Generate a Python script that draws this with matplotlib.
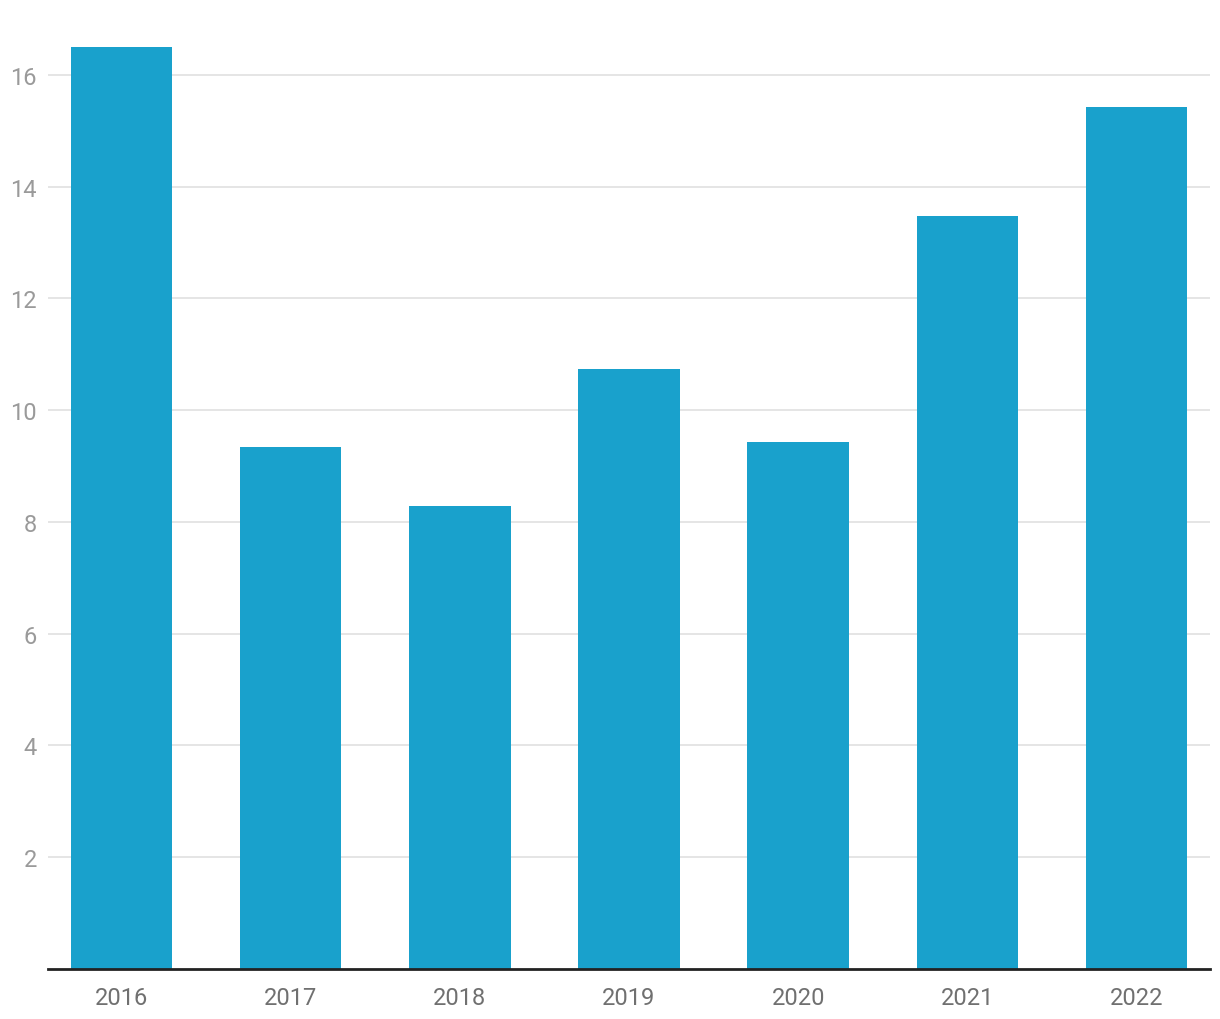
import matplotlib
matplotlib.use("Agg")
import matplotlib.pyplot as plt

plt.rcParams['font.family'] = ['Roboto', 'DejaVu Sans']

years = ['2016', '2017', '2018', '2019', '2020', '2021', '2022']
values = [16.5, 9.34, 8.28, 10.73, 9.43, 13.48, 15.43]
y_ticks = [2, 4, 6, 8, 10, 12, 14, 16]

fig = plt.figure(figsize=(12.2, 10.2), dpi=100)
ax = fig.add_axes([48 / 1220, 1 - 970 / 1020, (1210 - 48) / 1220, (970 - 48) / 1020])

ax.bar(range(len(years)), values, width=0.6, color='#19a1cc', zorder=2)

ax.set_xlim(-0.434, len(years) - 1 + 0.434)
ax.set_ylim(0, 16.5)
ax.set_xticks(range(len(years)))
ax.set_xticklabels(years)
ax.set_yticks(y_ticks)

ax.grid(axis='y', color='#e0e0e0', linewidth=1.2, zorder=0)
for s in ['top', 'right', 'left']:
    ax.spines[s].set_visible(False)
ax.spines['bottom'].set_color('#222222')
ax.spines['bottom'].set_linewidth(2)
ax.spines['bottom'].set_zorder(3)

ax.tick_params(axis='x', length=0, pad=12, labelsize=17, labelcolor='#707070')
ax.tick_params(axis='y', length=0, pad=8, labelsize=17, labelcolor='#9a9a9a')

fig.savefig('out.png', dpi=100)
